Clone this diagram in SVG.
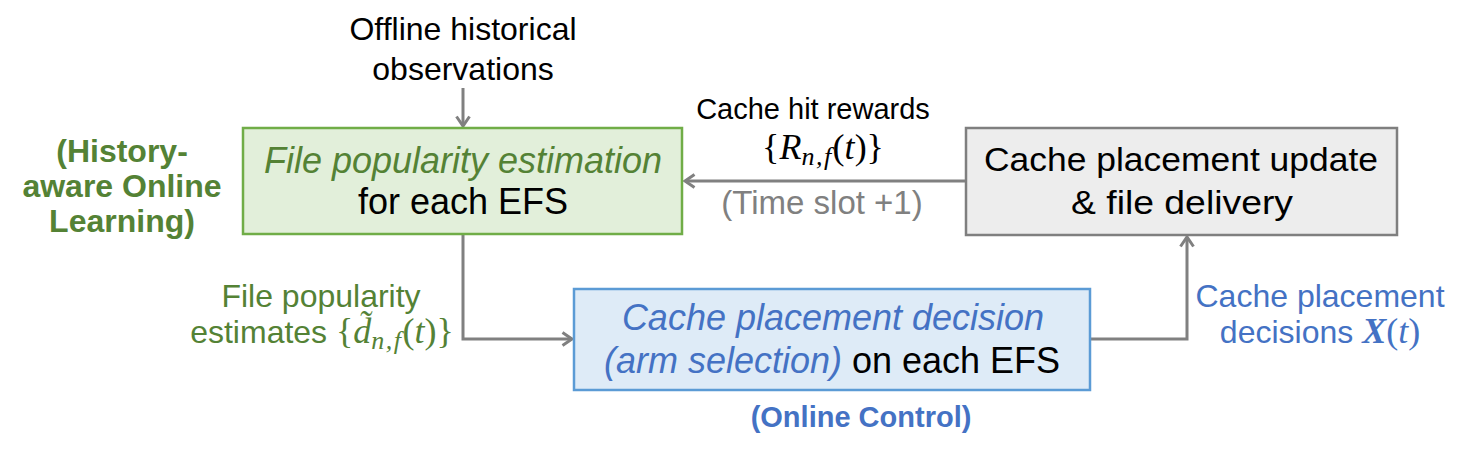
<svg xmlns="http://www.w3.org/2000/svg" width="1472" height="456" viewBox="0 0 1472 456">
<defs>
<marker id="ah" markerWidth="14" markerHeight="16" refX="11" refY="8" orient="auto" markerUnits="userSpaceOnUse">
<path d="M1.5,1.5 L11,8 L1.5,14.5" fill="none" stroke="#808080" stroke-width="3"/>
</marker>
</defs>
<style>
text{font-family:"Liberation Sans",Arial,sans-serif;font-size:32px;text-anchor:middle}
.g{fill:#548235}
.b{fill:#4472C4}
.k{fill:#000}
.gr{fill:#808080}
.it{font-style:italic}
.bd{font-weight:bold}
.box{font-size:36px}
.cal{font-size:34px}
.s29{font-size:29px}
.s33{font-size:33px}
.m{font-family:"Liberation Serif","Times New Roman",serif;font-size:36px}
.sub{font-size:26px;letter-spacing:1.5px}
.conn{fill:none;stroke:#808080;stroke-width:3;marker-end:url(#ah)}
</style>
<rect width="1472" height="456" fill="#fff"/>
<g id="connectors">
<path class="conn" d="M463,88 V126"/>
<path class="conn" d="M966,181 H685"/>
<path class="conn" d="M463,234 V339 H572"/>
<path class="conn" d="M1090,339 H1187 V237"/>
</g>
<g id="offline">
<text class="k" x="463" y="40">Offline historical</text>
<text class="k" x="463" y="80">observations</text>
</g>
<g id="history-label">
<text class="g bd" x="122" y="162">(History-</text>
<text class="g bd" x="122" y="197">aware Online</text>
<text class="g bd" x="122" y="232">Learning)</text>
</g>
<g id="estimation">
<rect x="243" y="128" width="439" height="106" fill="#E2EFDA" stroke="#70AD47" stroke-width="2.5"/>
<text class="g it box" x="463" y="173">File popularity estimation</text>
<text class="k box" x="463" y="214">for each EFS</text>
</g>
<g id="update">
<rect x="966" y="128" width="431" height="107" fill="#EDEDED" stroke="#7F7F7F" stroke-width="2.5"/>
<text class="k cal" x="1181" y="171" textLength="394" lengthAdjust="spacingAndGlyphs">Cache placement update</text>
<text class="k cal" x="1182" y="214" textLength="222" lengthAdjust="spacingAndGlyphs">&amp; file delivery</text>
</g>
<g id="decision">
<rect x="574" y="289" width="516" height="101" fill="#DEEBF7" stroke="#5B9BD5" stroke-width="2.5"/>
<text class="b it box" x="833" y="330">Cache placement decision</text>
<text class="box" x="832" y="373"><tspan class="b it">(arm selection)</tspan><tspan class="k"> on each EFS</tspan></text>
</g>
<g id="online-label">
<text class="b bd s29" x="861" y="427">(Online Control)</text>
</g>
<g id="rewards-label">
<text class="k s29" x="813" y="119">Cache hit rewards</text>
<text class="k m" x="823" y="159">{<tspan class="it">R</tspan><tspan class="it sub" dy="6">n,f</tspan><tspan dy="-6">(</tspan><tspan class="it">t</tspan>)}</text>
<text class="gr s33" x="822" y="214">(Time slot +1)</text>
</g>
<g id="estimates-label">
<text class="g" x="321" y="307">File popularity</text>
<text class="g" x="322" y="343">estimates <tspan class="m">{<tspan class="it">d̃</tspan><tspan class="it sub" dy="6">n,f</tspan><tspan dy="-6">(</tspan><tspan class="it">t</tspan>)}</tspan></text>
</g>
<g id="decisions-label">
<text class="b" x="1320" y="307">Cache placement</text>
<text class="b" x="1320" y="343">decisions <tspan class="m bd it">X</tspan><tspan class="m">(<tspan class="it">t</tspan>)</tspan></text>
</g>
</svg>
